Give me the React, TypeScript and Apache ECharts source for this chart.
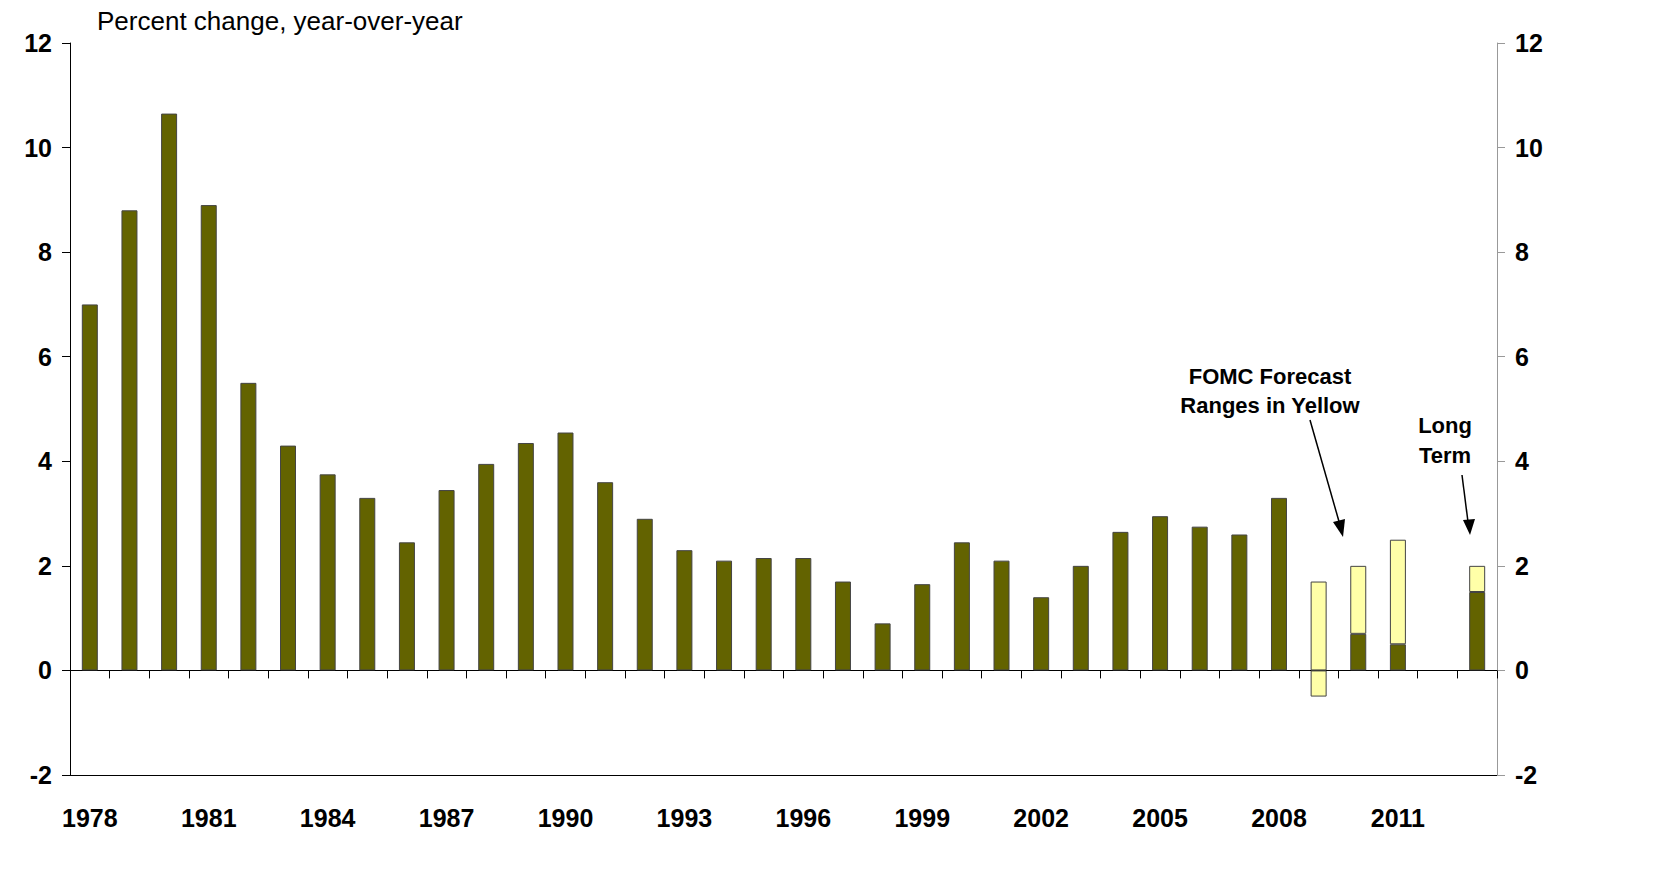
import React, { useEffect, useRef } from "react";
import * as echarts from "echarts";

const categories = Array.from({ length: 36 }, (_, i) => String(1978 + i));
const actual = [7.0, 8.8, 10.65, 8.9, 5.5, 4.3, 3.75, 3.3, 2.45, 3.45, 3.95, 4.35, 4.55, 3.6, 2.9, 2.3, 2.1, 2.15, 2.15, 1.7, 0.9, 1.65, 2.45, 2.1, 1.4, 2.0, 2.65, 2.95, 2.75, 2.6, 3.3];
// forecast: lower / upper ranges for 2009, 2010, 2011, (blank), long term
const fcLow = [-0.5, 0.7, 0.5, null, 1.5];
const fcHigh = [1.7, 2.0, 2.5, null, 2.0];

export default function App() {
  const ref = useRef<HTMLDivElement>(null);
  useEffect(() => {
    const chart = echarts.init(ref.current!, null, { renderer: "svg" });
    const n = categories.length;
    const dark: any[] = new Array(n).fill("-");
    const yPos: any[] = new Array(n).fill("-");
    const yNeg: any[] = new Array(n).fill("-");
    actual.forEach((v, i) => (dark[i] = v));
    fcLow.forEach((lo, k) => {
      const i = actual.length + k;
      const hi = fcHigh[k];
      if (lo == null || hi == null) return;
      if (lo < 0) {
        yNeg[i] = lo;
        yPos[i] = hi;
      } else {
        dark[i] = lo;
        yPos[i] = hi - lo;
      }
    });
    const lab = { fontFamily: "Arial", fontWeight: "bold", fontSize: 25, color: "#000" };
    const barBorder = { borderColor: "#444", borderWidth: 1 };
    chart.setOption({
      animation: false,
      grid: { left: 70, right: 183, top: 43, bottom: 120 },
      xAxis: [
        {
          type: "category", data: categories, position: "bottom",
          axisLine: { onZero: true, lineStyle: { color: "#000" } },
          axisTick: { show: true, inside: false, length: 8, lineStyle: { color: "#000" } },
          axisLabel: { show: false },
        },
        {
          type: "category", data: categories, position: "bottom",
          axisLine: { onZero: false, lineStyle: { color: "#000" } },
          axisTick: { show: false },
          axisLabel: { ...lab, margin: 30, interval: (i: number) => i % 3 === 0 && i < 34 },
        },
      ],
      yAxis: [
        {
          type: "value", min: -2, max: 12, interval: 2, position: "left",
          axisLine: { show: true, lineStyle: { color: "#000" } },
          axisTick: { show: true, length: 8, lineStyle: { color: "#000" } },
          splitLine: { show: false }, axisLabel: { ...lab, margin: 18 },
        },
        {
          type: "value", min: -2, max: 12, interval: 2, position: "right",
          axisLine: { show: true, lineStyle: { color: "#999" } },
          axisTick: { show: true, length: 8, lineStyle: { color: "#999" } },
          splitLine: { show: false }, axisLabel: { ...lab, margin: 18 },
        },
      ],
      series: [
        { type: "bar", data: dark, stack: "a", barWidth: 16, itemStyle: { color: "#636300", ...barBorder } },
        { type: "bar", data: yPos, stack: "a", barWidth: 16, itemStyle: { color: "#ffffa8", ...barBorder } },
        { type: "bar", data: yNeg, stack: "a", barWidth: 16, itemStyle: { color: "#ffffa8", ...barBorder } },
      ],
      graphic: [
        { type: "text", left: 97, top: 8, style: { text: "Percent change, year-over-year", font: "26px Arial", fill: "#000" } },
        { type: "text", x: 1270, y: 376, style: { text: "FOMC Forecast", font: "bold 22px Arial", fill: "#000", textAlign: "center", textVerticalAlign: "middle" } },
        { type: "text", x: 1270, y: 405, style: { text: "Ranges in Yellow", font: "bold 22px Arial", fill: "#000", textAlign: "center", textVerticalAlign: "middle" } },
        { type: "line", shape: { x1: 1310, y1: 420, x2: 1340, y2: 525 }, style: { stroke: "#000", lineWidth: 1.5 } },
        { type: "polygon", shape: { points: [[1343, 537], [1333, 522], [1345, 519]] }, style: { fill: "#000" } },
        { type: "text", x: 1445, y: 425, style: { text: "Long", font: "bold 22px Arial", fill: "#000", textAlign: "center", textVerticalAlign: "middle" } },
        { type: "text", x: 1445, y: 455, style: { text: "Term", font: "bold 22px Arial", fill: "#000", textAlign: "center", textVerticalAlign: "middle" } },
        { type: "line", shape: { x1: 1462, y1: 475, x2: 1468, y2: 522 }, style: { stroke: "#000", lineWidth: 1.5 } },
        { type: "polygon", shape: { points: [[1470, 535], [1463, 520], [1475, 519]] }, style: { fill: "#000" } },
      ],
    });
    return () => chart.dispose();
  }, []);
  return <div ref={ref} style={{ position: "absolute", left: 0, top: 0, width: 1680, height: 895, background: "#fff" }} />;
}
